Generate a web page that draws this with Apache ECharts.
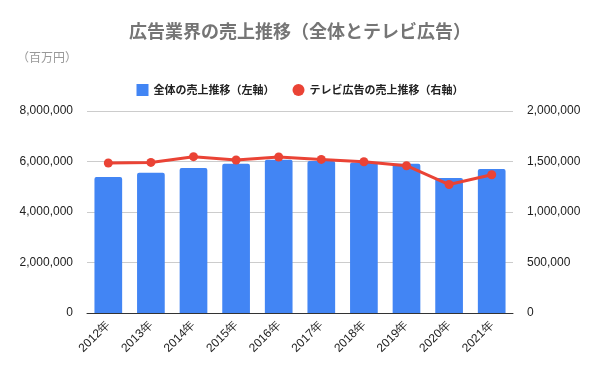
<!DOCTYPE html>
<html><head><meta charset="utf-8">
<script src="https://cdn.jsdelivr.net/npm/echarts@6/dist/echarts.min.js"></script>
<style>html,body{margin:0;padding:0;background:#fff}#c{width:600px;height:371px}</style>
</head><body><div id="c"></div>
<script>
const categories = ['2012年','2013年','2014年','2015年','2016年','2017年','2018年','2019年','2020年','2021年'];
const totalSales = [5384000,5555000,5742000,5913000,6072000,6020000,5964000,5913000,5344000,5702000];
const tvSales = [1485000,1491000,1548000,1515000,1545000,1521000,1498000,1458000,1272000,1369000];
const leftTicks = [0,2000000,4000000,6000000,8000000];
const rightTicks = [0,500000,1000000,1500000,2000000];
const fontFam = '"Noto Sans CJK JP", "Liberation Sans", Arial, sans-serif';
const numFont = '"Liberation Sans", Arial, sans-serif';
const fmt = v => v.toLocaleString('en-US');
const chart = echarts.init(document.getElementById('c'));
chart.setOption({
  animation:false,
  textStyle:{fontFamily:fontFam},
  title:[{text:'広告業界の売上推移（全体とテレビ広告）',left:'center',top:17,
    textStyle:{fontSize:18,fontWeight:'bold',color:'#757575',fontFamily:fontFam}},
    {text:'（百万円）',left:12,top:46,textStyle:{fontSize:12,fontWeight:'normal',color:'#999',fontFamily:fontFam}}],
  legend:{top:79,left:'center',itemGap:18,itemWidth:12,itemHeight:12,
    textStyle:{fontSize:11,fontWeight:'bold',color:'#222',fontFamily:fontFam},
    data:[{name:'全体の売上推移（左軸）',icon:'rect'},{name:'テレビ広告の売上推移（右軸）',icon:'circle'}]},
  grid:{left:87,right:87,top:111,bottom:58},
  xAxis:{type:'category',data:categories,
    axisLine:{lineStyle:{color:'#333'}},axisTick:{show:false},
    axisLabel:{rotate:45,fontSize:12,color:'#222',margin:10,interval:0,fontFamily:numFont}},
  yAxis:[{type:'value',min:leftTicks[0],max:leftTicks[leftTicks.length-1],interval:2000000,
    axisLabel:{formatter:fmt,fontSize:12,color:'#222',margin:14,fontFamily:numFont},
    splitLine:{lineStyle:{color:'#ccc'}},axisLine:{show:false},axisTick:{show:false}},
   {type:'value',min:rightTicks[0],max:rightTicks[rightTicks.length-1],interval:500000,
    axisLabel:{formatter:fmt,fontSize:12,color:'#222',margin:14,fontFamily:numFont},
    splitLine:{show:false},axisLine:{show:false},axisTick:{show:false}}],
  series:[{name:'全体の売上推移（左軸）',type:'bar',data:totalSales,yAxisIndex:0,
    barCategoryGap:'35%',itemStyle:{color:'#4285f4',borderRadius:[2,2,0,0]}},
   {name:'テレビ広告の売上推移（右軸）',type:'line',data:tvSales,yAxisIndex:1,
    symbol:'circle',symbolSize:9,lineStyle:{color:'#ea4335',width:3},itemStyle:{color:'#ea4335'}}]
});
</script></body></html>
